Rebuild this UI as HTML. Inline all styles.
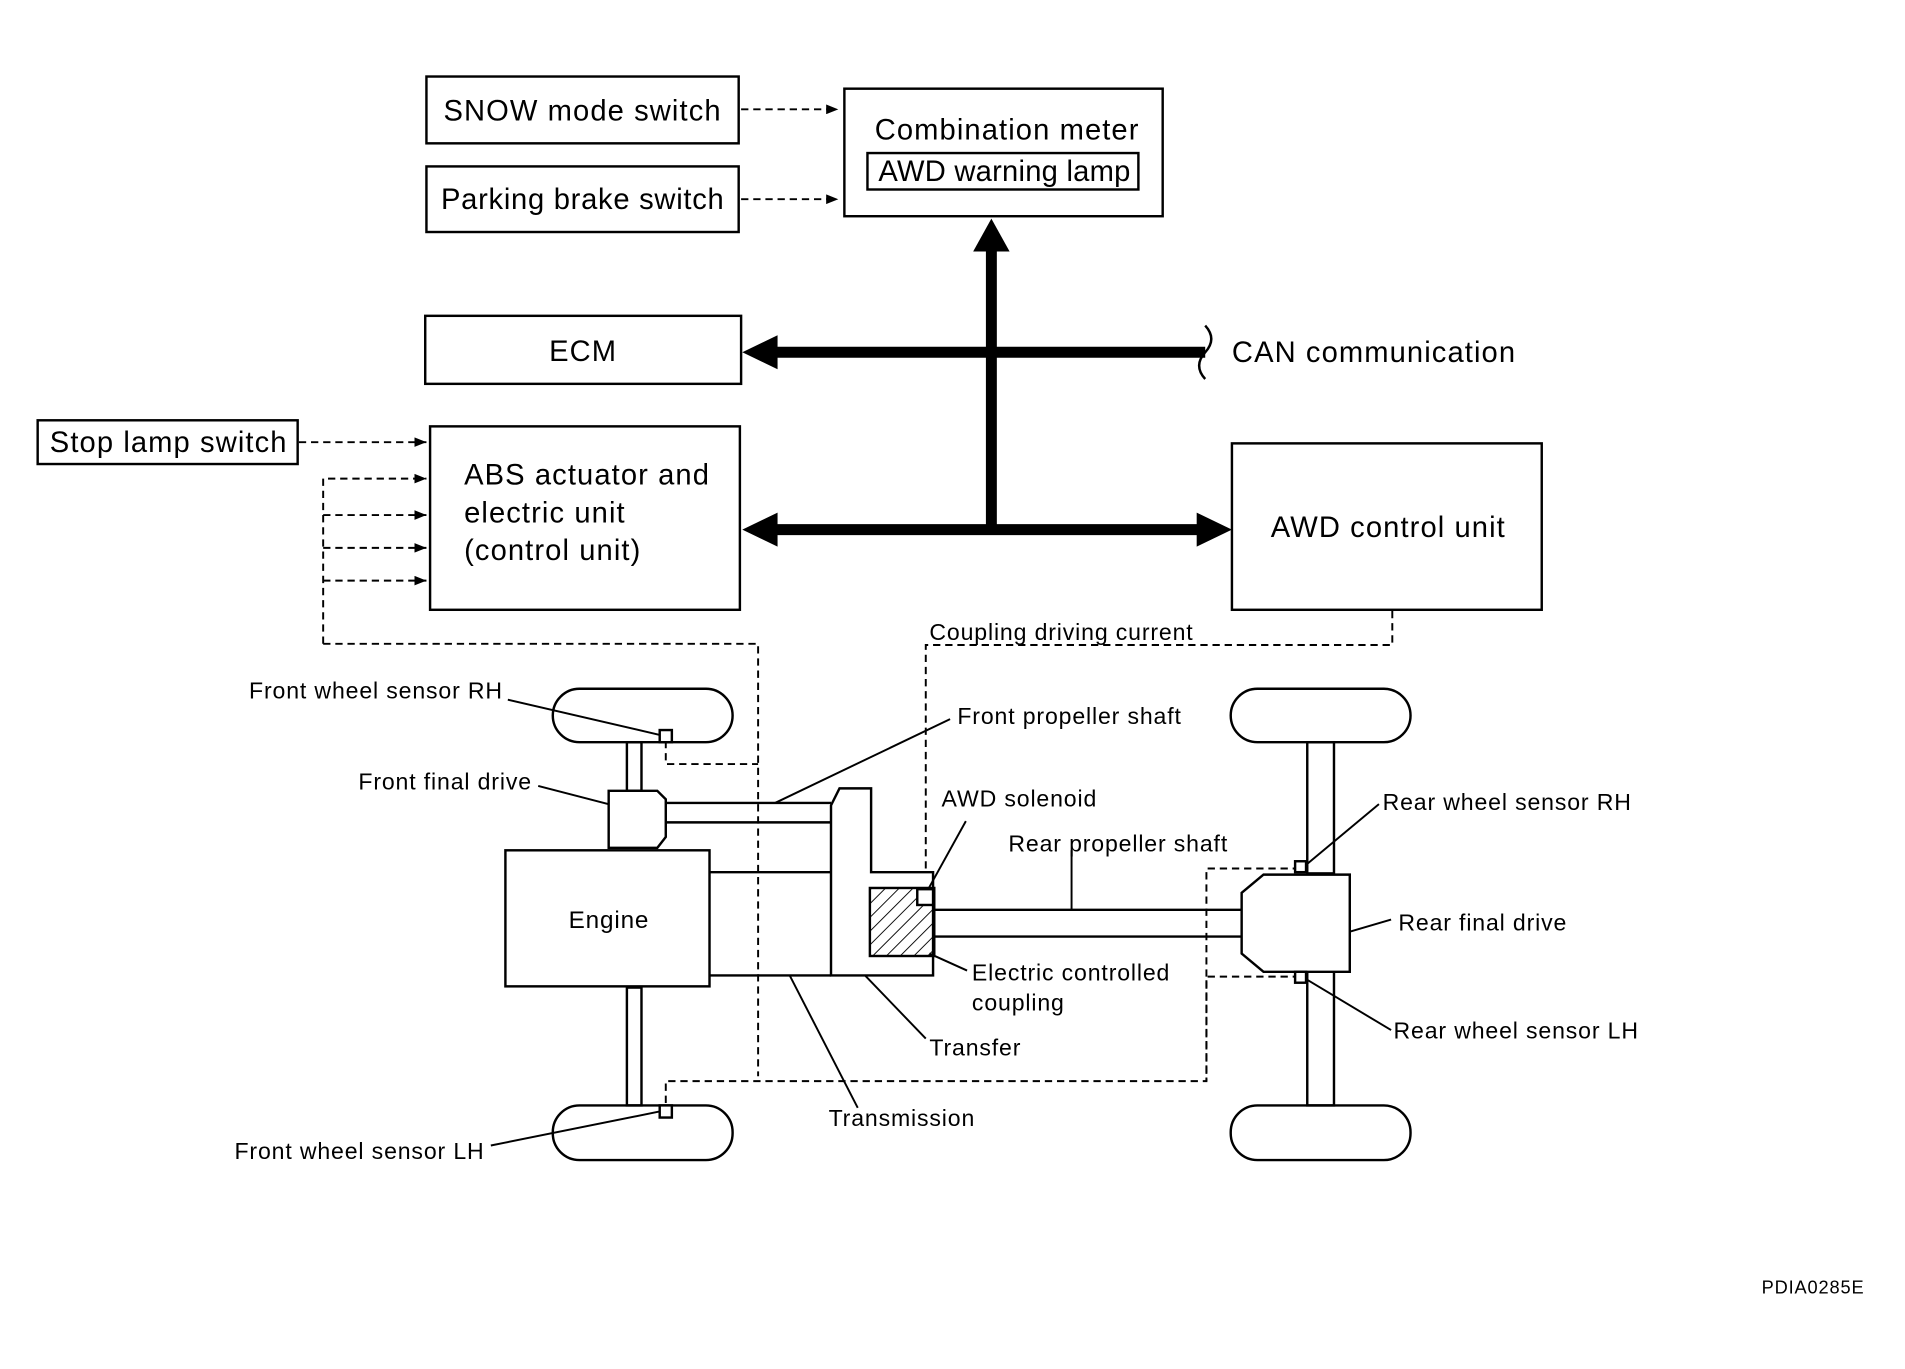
<!DOCTYPE html>
<html><head><meta charset="utf-8"><style>html,body{margin:0;padding:0;background:#fff}svg{display:block}</style></head>
<body>
<svg width="1905" height="1369" viewBox="0 0 1568 1127" preserveAspectRatio="none" xmlns="http://www.w3.org/2000/svg" font-family="Liberation Sans, sans-serif" fill="none" stroke="#000">
<defs>
<marker id="a" markerWidth="10" markerHeight="8" refX="10" refY="4" orient="auto" markerUnits="userSpaceOnUse"><path d="M0,0L10,4L0,8z" fill="#000" stroke="none"/></marker>
<pattern id="h" width="8" height="8" patternUnits="userSpaceOnUse" patternTransform="rotate(45)"><line x1="0" y1="0" x2="0" y2="8" stroke="#000" stroke-width="1.5"/></pattern>
</defs>
<g stroke-width="2">
<rect x="351" y="63" width="257" height="55"/>
<rect x="351" y="137" width="257" height="54"/>
<rect x="695" y="73" width="262" height="105"/>
<rect x="714" y="126" width="223" height="30"/>
<rect x="350" y="260" width="260" height="56"/>
<rect x="31" y="346" width="214" height="36"/>
<rect x="354" y="351" width="255" height="151"/>
<rect x="1014" y="365" width="255" height="137"/>
</g>
<g fill="#000" stroke="none" font-size="24" letter-spacing="0.9">
<text x="365" y="99">SNOW mode switch</text>
<text x="363" y="172" letter-spacing="0.6">Parking brake switch</text>
<text x="720" y="115">Combination meter</text>
<text x="723" y="149" letter-spacing="0.2">AWD warning lamp</text>
<text x="452" y="297">ECM</text>
<text x="41" y="372">Stop lamp switch</text>
<text x="382" y="399">ABS actuator and</text>
<text x="382" y="430">electric unit</text>
<text x="382" y="461">(control unit)</text>
<text x="1046" y="442">AWD control unit</text>
<text x="1014" y="298">CAN communication</text>
</g>
<g stroke-width="9">
<line x1="816" y1="205" x2="816" y2="436"/>
<line x1="638" y1="290" x2="992" y2="290"/>
<line x1="638" y1="436" x2="988" y2="436"/>
</g>
<g fill="#000" stroke="none">
<path d="M816,180L831,207L801,207z"/>
<path d="M611,290L640,276L640,304z"/>
<path d="M611,436L640,422L640,450z"/>
<path d="M1014,436L985,422L985,450z"/>
</g>
<path d="M992,268q10,11 0,22q-10,11 0,22" stroke-width="2"/>
<g stroke-width="1.6" stroke-dasharray="6,4">
<line x1="610" y1="90" x2="690" y2="90" marker-end="url(#a)"/>
<line x1="610" y1="164" x2="690" y2="164" marker-end="url(#a)"/>
<line x1="246" y1="364" x2="351" y2="364" marker-end="url(#a)"/>
<path d="M266,530V394H351" marker-end="url(#a)"/>
<line x1="266" y1="424" x2="351" y2="424" marker-end="url(#a)"/>
<line x1="266" y1="451" x2="351" y2="451" marker-end="url(#a)"/>
<line x1="266" y1="478" x2="351" y2="478" marker-end="url(#a)"/>
<path d="M266,530H624V886"/>
<path d="M548,610V629H624"/>
<path d="M548,908V890H993V804H1070"/>
<path d="M1070,715H993V890"/>
<path d="M1146,503V531H762V729" marker-end="url(#a)"/>
</g>
<g stroke-width="2">
<rect x="455" y="567" width="148" height="44" rx="22"/>
<rect x="455" y="910" width="148" height="45" rx="22"/>
<rect x="1013" y="567" width="148" height="44" rx="22"/>
<rect x="1013" y="910" width="148" height="45" rx="22"/>
<rect x="516" y="611" width="12" height="40"/>
<rect x="516" y="813" width="12" height="97"/>
<rect x="1076" y="611" width="22" height="108"/>
<rect x="1076" y="800" width="22" height="110"/>
<path d="M501,651H541L548,658V689L541,698H501z" fill="#fff"/>
<line x1="548" y1="661" x2="684" y2="661"/>
<line x1="548" y1="677" x2="684" y2="677"/>
<rect x="416" y="700" width="168" height="112" fill="#fff"/>
<line x1="584" y1="718" x2="684" y2="718"/>
<line x1="584" y1="803" x2="684" y2="803"/>
<path d="M684,803V663L691,649H717V718H768V803z" fill="#fff"/>
<rect x="716" y="731" width="53" height="56" fill="url(#h)"/>
<rect x="755" y="732" width="13" height="13" fill="#fff"/>
<line x1="769" y1="749" x2="1022" y2="749"/>
<line x1="769" y1="771" x2="1022" y2="771"/>
<path d="M1022,735L1040,720H1111V800H1040L1022,785z" fill="#fff"/>
<rect x="543" y="601" width="10" height="10" fill="#fff"/>
<rect x="543" y="910" width="10" height="10" fill="#fff"/>
<rect x="1066" y="709" width="9" height="9" fill="#fff"/>
<rect x="1066" y="800" width="9" height="9" fill="#fff"/>
</g>
<g stroke-width="1.6">
<line x1="418" y1="576" x2="543" y2="605"/>
<line x1="443" y1="647" x2="501" y2="662"/>
<line x1="782" y1="592" x2="638" y2="661"/>
<line x1="795" y1="676" x2="764" y2="732"/>
<line x1="1135" y1="662" x2="1075" y2="712"/>
<line x1="1145" y1="757" x2="1111" y2="767"/>
<line x1="1145" y1="848" x2="1075" y2="806"/>
<line x1="796" y1="799" x2="765" y2="785"/>
<line x1="762" y1="855" x2="712" y2="803"/>
<line x1="706" y1="912" x2="650" y2="803"/>
<line x1="882" y1="700" x2="882" y2="749"/>
<line x1="404" y1="943" x2="543" y2="915"/>
</g>
<g fill="#000" stroke="none" font-size="19" letter-spacing="0.7">
<text x="205" y="575">Front wheel sensor RH</text>
<text x="295" y="650">Front final drive</text>
<text x="788" y="596">Front propeller shaft</text>
<text x="775" y="664">AWD solenoid</text>
<text x="830" y="701">Rear propeller shaft</text>
<text x="1138" y="667">Rear wheel sensor RH</text>
<text x="1151" y="766">Rear final drive</text>
<text x="1147" y="855">Rear wheel sensor LH</text>
<text x="800" y="807">Electric controlled</text>
<text x="800" y="832">coupling</text>
<text x="765" y="869">Transfer</text>
<text x="682" y="927">Transmission</text>
<text x="193" y="954">Front wheel sensor LH</text>
<text x="765" y="527">Coupling driving current</text>
<text x="468" y="764" font-size="20">Engine</text>
<text x="1450" y="1065" font-size="15">PDIA0285E</text>
</g>
</svg>
</body></html>
